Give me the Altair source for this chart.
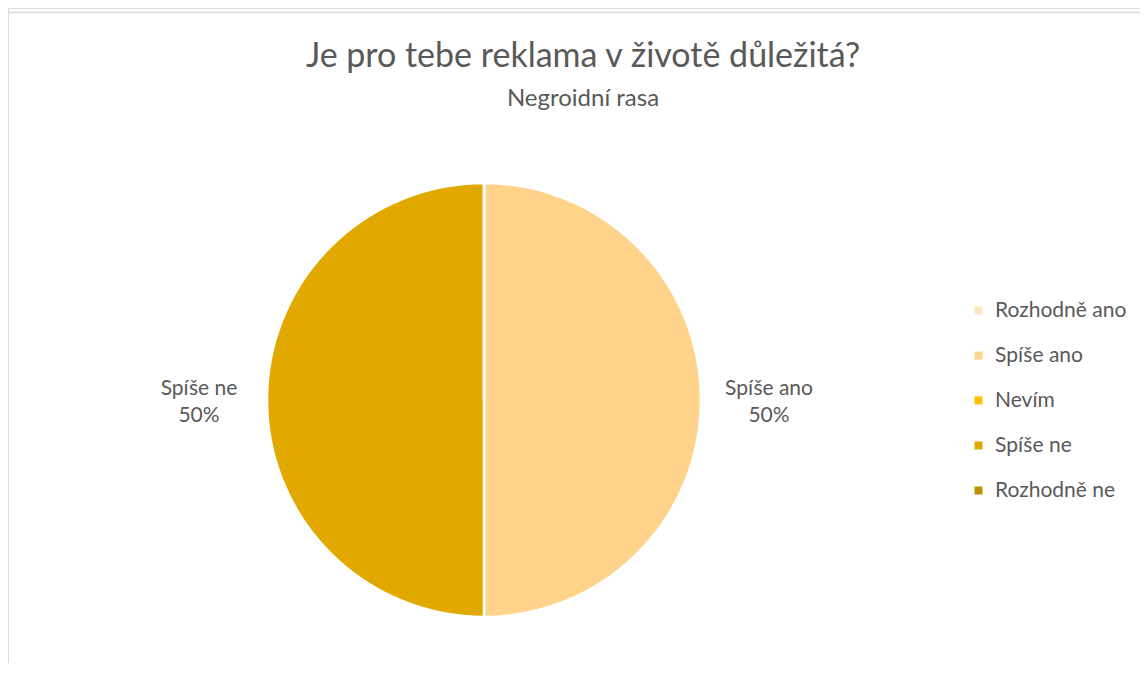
import altair as alt
import pandas as pd

categories = ["Rozhodně ano", "Spíše ano", "Nevím", "Spíše ne", "Rozhodně ne"]
values = [0, 50, 0, 50, 0]
colors = ["#FFE3BD", "#FFD38A", "#FFC000", "#E1A900", "#BF9000"]
title_text = "Je pro tebe reklama v životě důležitá?"
subtitle_text = "Negroidní rasa"

df = pd.DataFrame({"kat": categories, "hodnota": values, "poradi": list(range(len(categories)))})
total = sum(values)
df["label"] = [f"{c}\n{round(v / total * 100)}%" for c, v in zip(categories, values)]

FONT = "Lato"
GREY = "#595959"
CX, CY = 476, 392

base = alt.Chart(df)

pie = base.mark_arc(outerRadius=217, stroke="white", strokeWidth=2.5).encode(
    theta=alt.Theta("hodnota:Q", stack=True),
    order=alt.Order("poradi:Q"),
    color=alt.Color(
        "kat:N",
        scale=alt.Scale(domain=categories, range=colors),
        sort=categories,
        legend=alt.Legend(
            title=None,
            orient="none",
            legendX=960,
            legendY=292,
            symbolType="square",
            symbolSize=64,
            symbolStrokeWidth=0,
            labelFont=FONT,
            labelFontSize=21,
            labelColor=GREY,
            labelLimit=300,
            rowPadding=23,
            labelOffset=6,
        ),
    ),
    x=alt.value(CX),
    y=alt.value(CY),
)

labels = base.transform_filter("datum.hodnota > 0").mark_text(
    radius=285, font=FONT, fontSize=21, color=GREY, lineBreak="\n", align="center",
    baseline="middle", lineHeight=27, dy=-11
).encode(
    theta=alt.Theta("hodnota:Q", stack=True),
    order=alt.Order("poradi:Q"),
    text=alt.Text("label:N"),
    x=alt.value(CX),
    y=alt.value(CY),
)

title = alt.Chart(pd.DataFrame({"t": [title_text]})).mark_text(
    font=FONT, fontSize=34, color=GREY, align="center", baseline="alphabetic"
).encode(text="t:N", x=alt.value(575), y=alt.value(59))

subtitle = alt.Chart(pd.DataFrame({"t": [subtitle_text]})).mark_text(
    font=FONT, fontSize=24, color=GREY, align="center", baseline="alphabetic"
).encode(text="t:N", x=alt.value(575), y=alt.value(98))

frame_data = pd.DataFrame({"f": [0]})
frame_top = alt.Chart(frame_data).mark_rule(color="#D9D9D9", strokeWidth=1.5).encode(
    x=alt.value(-1), x2=alt.value(1140), y=alt.value(4.5)
)
frame_left = alt.Chart(frame_data).mark_rule(color="#D9D9D9", strokeWidth=1.5).encode(
    x=alt.value(-0.5), y=alt.value(4), y2=alt.value(667)
)

chart = alt.layer(frame_top, frame_left, pie, labels, title, subtitle).properties(
    width=1132,
    height=655,
    autosize=alt.AutoSizeParams(type="none"),
    padding=0,
).configure_view(stroke=None).configure(background="white")

chart.save("out.html", embed_options={"renderer": "svg", "actions": False})
